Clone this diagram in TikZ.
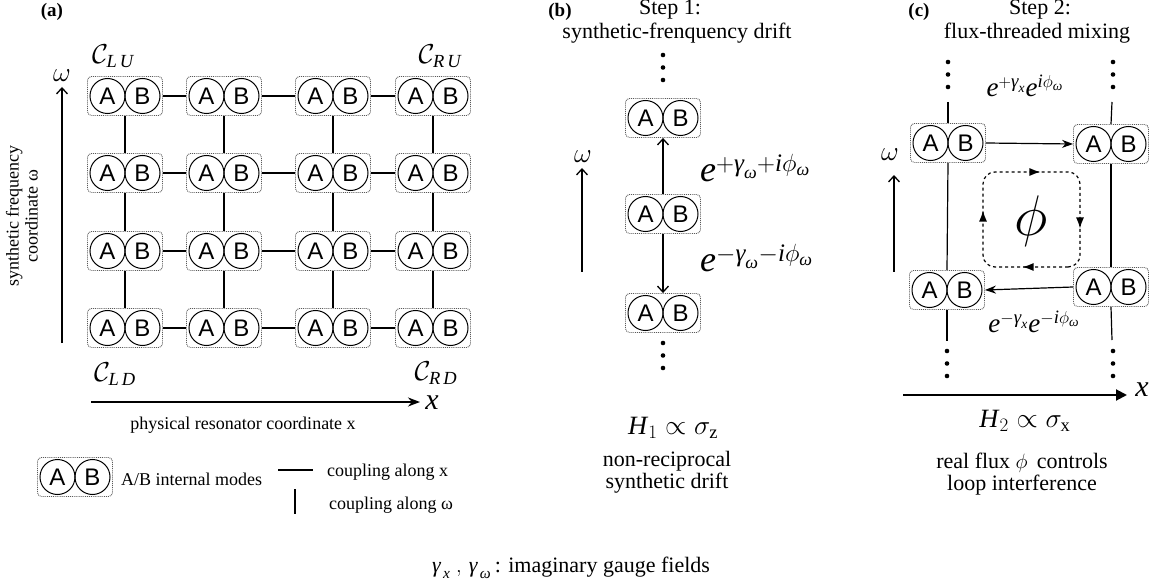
\documentclass[tikz,border=0pt]{standalone}
\usepackage{amsmath}
\usepackage{fontspec}
\setmainfont{Liberation Serif}
\newfontfamily\arialf{Liberation Sans}
\usetikzlibrary{arrows.meta,decorations.markings}
\newcommand\fs[1]{\fontsize{#1}{#1}\selectfont}
\newcommand\abmod[2]{%
  \node[modbox] (#1) at (#2) {};
  \node[abmode] (#1a) at ([xshift=-17.5pt]#1.center) {A};
  \node[abmode] (#1b) at ([xshift=17.5pt]#1.center) {B};
}
\newcommand\vdotsat[1]{%
  \foreach \dy in {0,12.5,25} {\fill ([yshift=-\dy pt]#1) circle (2.3pt);}
}
\tikzset{
  modbox/.style={draw=black!65, densely dotted, rounded corners=4pt, minimum width=75pt, minimum height=39pt, inner sep=0pt, line width=0.9pt},
  abmode/.style={circle, draw, solid, line width=1pt, minimum size=35pt, inner sep=0pt, font=\arialf\fs{24}},
  link/.style={line width=1.2pt},
  axis/.style={line width=2pt},
  txt/.style={font=\rmfamily\fs{18}, inner sep=0pt, align=center},
  bigtxt/.style={font=\rmfamily\fs{22}, inner sep=0pt, align=center},
  lab/.style={font=\rmfamily\bfseries\fs{19}, inner sep=0pt},
  mathlab/.style={inner sep=0pt},
  barb/.style={-{Straight Barb[length=6pt,width=11pt,line width=1.3pt]}},
  stl/.style={-{Stealth[length=12pt,width=9pt]}},
}
\begin{document}
\begin{tikzpicture}[x=1pt,y=-1pt]
\useasboundingbox (0,0) rectangle (1157,588);
% ---------------- panel (a)
\node[lab] (la) at (52,12) {(a)};
\foreach \r/\yy in {1/96,2/173,3/251,4/328} {
  \foreach \c/\xx in {1/125,2/224,3/333,4/433} {
    \abmod{m\r\c}{\xx,\yy}
  }
}
\foreach \r in {1,2,3,4} {
  \draw[link] (m\r1.east) -- (m\r2.west);
  \draw[link] (m\r2.east) -- (m\r3.west);
  \draw[link] (m\r3.east) -- (m\r4.west);
}
\foreach \c in {1,2,3,4} {
  \draw[link] (m1\c.south) -- (m2\c.north);
  \draw[link] (m2\c.south) -- (m3\c.north);
  \draw[link] (m3\c.south) -- (m4\c.north);
}
\node[mathlab, font=\fs{24}, scale=1.1] (cLU) at (113,56) {$\mathcal{C}_{\textit{L\,U}}$};
\node[mathlab, font=\fs{24}, scale=1.1] (cRU) at (440,56) {$\mathcal{C}_{\textit{R\,U}}$};
\node[mathlab, font=\fs{24}, scale=1.1] (cLD) at (115,374) {$\mathcal{C}_{\textit{L\,D}}$};
\node[mathlab, font=\fs{24}, scale=1.1] (cRD) at (436,373) {$\mathcal{C}_{\textit{R\,D}}$};
% axes
\coordinate (wa0) at (62,343);
\coordinate (wa1) at (62,87);
\draw[axis, barb] (wa0) -- (wa1);
\node[mathlab, font=\fs{24}, scale=1.1] (wlab) at (62,76) {$\omega$};
\node[txt, rotate=90] (wtxt) at (22,216) {synthetic frequency\\[1pt]coordinate ω};
\coordinate (xa0) at (91,402);
\coordinate (xa1) at (420,402);
\draw[axis, stl] (xa0) -- (xa1);
\node[mathlab, font=\fs{30}] (xlab) at (432,403) {\textit{x}};
\node[txt] (xtxt) at (243,425) {physical resonator coordinate x};
% legend
\abmod{leg}{75,477}
\node[txt, anchor=west] (legt) at (121,479) {A/B internal modes};
\coordinate (lh0) at (278,470);
\coordinate (lh1) at (313,470);
\draw[link] (lh0) -- (lh1);
\node[txt, anchor=west] (lht) at (327,472) {coupling along x};
\coordinate (lv0) at (295,489);
\coordinate (lv1) at (295,514);
\draw[link] (lv0) -- (lv1);
\node[txt, anchor=west] (lvt) at (329,505) {coupling along ω};
% bottom caption
\node[txt, font=\rmfamily\fs{22}] (gauge) at (571,568) {$\textit{γ}_{\,\textit{x}}\;,\,\textit{γ}_{\,\textit{ω}}$\,: imaginary gauge fields};
% ---------------- panel (b)
\node[lab] (lb) at (560,12) {(b)};
\node[bigtxt] (s1) at (670,10) {Step 1:};
\node[bigtxt] (s1b) at (677,33) {synthetic-frenquency drift};
\vdotsat{663,55}
\abmod{b1}{663,118}
\abmod{b2}{663,214}
\abmod{b3}{663,313}
\draw[link, barb] (b2.north) -- (b1.south);
\draw[link, barb] (b2.south) -- (b3.north);
\vdotsat{663,343}
\node[mathlab, font=\fs{36}, anchor=west] (eb1) at (700,168) {\textit{e}$^{+\textit{γ}_{\textit{ω}}+\textit{i}\phi_{\textit{ω}}}$};
\node[mathlab, font=\fs{36}, anchor=west] (eb2) at (700,258) {\textit{e}$^{-\textit{γ}_{\textit{ω}}-\textit{i}\phi_{\textit{ω}}}$};
\coordinate (wb0) at (582,272);
\coordinate (wb1) at (582,168);
\draw[axis, barb] (wb0) -- (wb1);
\node[mathlab, font=\fs{24}, scale=1.1] (wbl) at (583,157) {$\omega$};
\node[mathlab, font=\fs{24}, scale=1.1] (h1) at (673,428) {\textit{H}$_{1}\propto\sigma_{\mathrm{z}}$};
\node[bigtxt] (nr) at (667,472) {non-reciprocal\\synthetic drift};
% ---------------- panel (c)
\node[lab] (lc) at (919,12) {(c)};
\node[bigtxt] (s2) at (1040,10) {Step 2:};
\node[bigtxt] (s2b) at (1037,33) {flux-threaded mixing};
\abmod{tl}{948,143}
\abmod{tr}{1111,144}
\abmod{bl}{947,290}
\abmod{br}{1111,287}
\vdotsat{948,62}
\vdotsat{1113,62}
\coordinate (lt0) at (948,102);
\coordinate (rt0) at (1112,102);
\draw[link] (lt0) -- (tl.north);
\draw[link] (rt0) -- (tr.north);
\draw[link] (tl.south) -- (bl.north);
\draw[link] (tr.south) -- (br.north);
\coordinate (lb0) at (947,341);
\coordinate (rb0) at (1112,340);
\draw[link] (bl.south) -- (lb0);
\draw[link] (br.south) -- (rb0);
\vdotsat{947,351}
\vdotsat{1113,351}
\draw[link, -{Stealth[length=11pt,width=8pt]}] (tl.east) -- (tr.west);
\draw[link, -{Stealth[length=11pt,width=8pt]}] (br.west) -- (bl.east);
\node[mathlab, font=\fs{27}] (ec1) at (1025,86) {\textit{e}$^{+\textit{γ}_{\textit{x}}}$\textit{e}$^{\textit{i}\phi_{\textit{ω}}}$};
\node[mathlab, font=\fs{27}] (ec2) at (1034,322) {\textit{e}$^{-\textit{γ}_{\textit{x}}}$\textit{e}$^{-\textit{i}\phi_{\textit{ω}}}$};
\draw[line width=1.2pt, dashed, rounded corners=12pt,
  postaction={decorate, decoration={markings,
    mark=at position 0.125 with {\arrow[solid]{Latex[length=11pt,width=8pt]}},
    mark=at position 0.375 with {\arrow[solid]{Latex[length=11pt,width=8pt]}},
    mark=at position 0.625 with {\arrow[solid]{Latex[length=11pt,width=8pt]}},
    mark=at position 0.875 with {\arrow[solid]{Latex[length=11pt,width=8pt]}}}}]
  (1080,267) -- (983,267) -- (983,172) -- (1080,172) -- cycle;
\node[mathlab, font=\fs{24}, scale=2.3] (phi) at (1031,221) {$\phi$};
\coordinate (wc0) at (894,272);
\coordinate (wc1) at (894,175);
\draw[axis, barb] (wc0) -- (wc1);
\node[mathlab, font=\fs{24}, scale=1.1] (wcl) at (890,155) {$\omega$};
\coordinate (xc0) at (903,395);
\coordinate (xc1) at (1127,395);
\draw[axis, -{Triangle[length=11pt,width=11pt]}] (xc0) -- (xc1);
\node[mathlab, font=\fs{30}] (xcl) at (1142,390) {\textit{x}};
\node[mathlab, font=\fs{24}, scale=1.1] (h2) at (1025,421) {\textit{H}$_{2}\propto\sigma_{\mathrm{x}}$};
\node[bigtxt] (rf) at (1022,474) {real flux $\phi$\, controls\\loop interference};
\end{tikzpicture}
\end{document}
